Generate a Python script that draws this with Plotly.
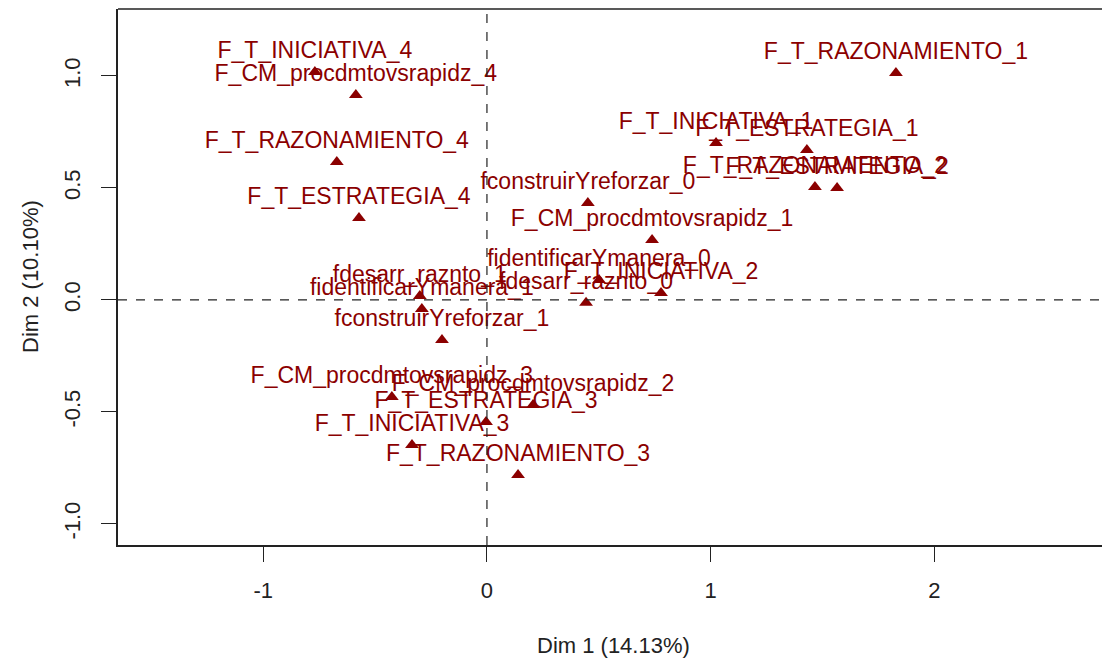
import plotly.graph_objects as go

# MCA category coordinates (Dim 1, Dim 2)
labels = [
    "F_T_INICIATIVA_4", "F_CM_procdmtovsrapidz_4", "F_T_RAZONAMIENTO_4", "F_T_ESTRATEGIA_4",
    "F_T_RAZONAMIENTO_1", "F_T_INICIATIVA_1", "F_T_ESTRATEGIA_1", "F_T_RAZONAMIENTO_2",
    "F_T_ESTRATEGIA_2", "fconstruirYreforzar_0", "F_CM_procdmtovsrapidz_1", "fidentificarYmanera_0",
    "F_T_INICIATIVA_2", "fdesarr_raznto_0", "fdesarr_raznto_1", "fidentificarYmanera_1",
    "fconstruirYreforzar_1", "F_CM_procdmtovsrapidz_3", "F_CM_procdmtovsrapidz_2", "F_T_ESTRATEGIA_3",
    "F_T_INICIATIVA_3", "F_T_RAZONAMIENTO_3",
]
dim1 = [-0.769, -0.586, -0.671, -0.572,
        1.828, 1.024, 1.430, 1.466,
        1.565, 0.451, 0.738, 0.501,
        0.778, 0.443, -0.300, -0.291,
        -0.201, -0.425, 0.206, -0.004,
        -0.335, 0.139]
dim2 = [1.018, 0.915, 0.616, 0.366,
        1.013, 0.701, 0.670, 0.504,
        0.500, 0.433, 0.268, 0.089,
        0.031, -0.013, 0.018, -0.040,
        -0.179, -0.433, -0.469, -0.545,
        -0.647, -0.781]

xticks = [-1, 0, 1, 2]
yticks = [-1.0, -0.5, 0.0, 0.5, 1.0]
xtitle = "Dim 1 (14.13%)"
ytitle = "Dim 2 (10.10%)"

font = "Liberation Sans, Arial, sans-serif"
red = "#8B0000"
ink = "#222"

fig = go.Figure()
fig.add_trace(go.Scatter(x=dim1, y=dim2, mode="markers+text", text=labels,
                         textposition="top center",
                         textfont=dict(family=font, size=23, color=red),
                         marker=dict(symbol="triangle-up", size=12, color=red),
                         cliponaxis=False, showlegend=False))

fig.add_hline(y=0, line=dict(color=ink, width=1.2, dash="dash"))
fig.add_vline(x=0, line=dict(color=ink, width=1.2, dash="dash"))
# top border of the box (right side is cut off in the original)
fig.add_shape(type="line", xref="paper", yref="paper", x0=0, x1=1, y0=1, y1=1,
              line=dict(color=ink, width=1.5))

# axis titles as annotations so they sit where R puts them
# (x title is centred on the full R plot region, which runs past the right edge)
fig.add_annotation(text=xtitle, xref="paper", yref="paper", x=0.504, y=0, yanchor="middle",
                   yshift=-100, showarrow=False, font=dict(family=font, size=22, color=ink))
fig.add_annotation(text=ytitle, xref="paper", yref="paper", x=0, y=0.5, xanchor="center",
                   xshift=-88, textangle=-90, showarrow=False, font=dict(family=font, size=22, color=ink))

fig.update_xaxes(range=[-1.649, 2.749], tickvals=xticks, ticktext=[str(v) for v in xticks],
                 ticks="outside", ticklen=15, tickcolor=ink, showline=True, linecolor=ink,
                 linewidth=1.5, showgrid=False, zeroline=False, automargin=False,
                 ticklabelstandoff=10, tickfont=dict(family=font, size=22, color=ink))
fig.update_yaxes(range=[-1.094, 1.299], tickvals=yticks, ticktext=["%.1f" % v for v in yticks],
                 ticks="outside", ticklen=15, tickcolor=ink, showline=True, linecolor=ink,
                 linewidth=1.5, showgrid=False, zeroline=False, tickangle=-90, automargin=False,
                 ticklabelstandoff=12, tickfont=dict(family=font, size=22, color=ink))
fig.update_layout(width=1102, height=658, plot_bgcolor="white", paper_bgcolor="white",
                  margin=dict(l=118, r=0, t=9, b=113))
# drop the browser's default body margin so the figure fills the window exactly
fig.write_html("out.html", config={"displayModeBar": False},
               post_script="document.body.style.margin='0';document.body.style.overflow='hidden';")
